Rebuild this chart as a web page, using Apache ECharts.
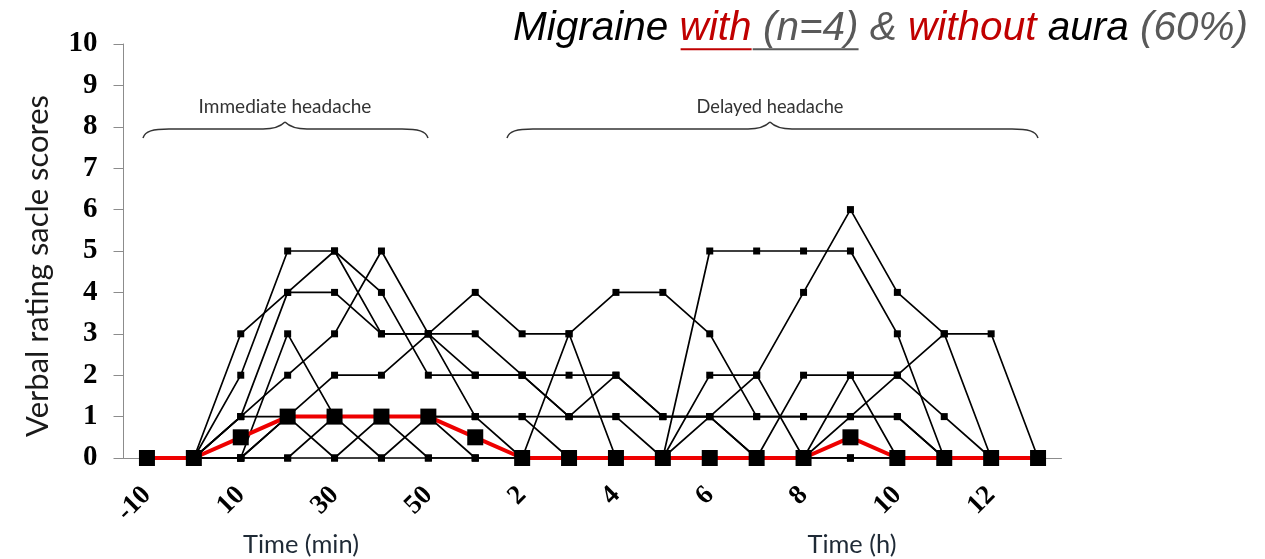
<!DOCTYPE html>
<html>
<head>
<meta charset="utf-8">
<script src="https://cdn.jsdelivr.net/npm/echarts@6/dist/echarts.min.js"></script>
<style>
  html, body { margin: 0; padding: 0; background: #ffffff; }
  #chart { width: 1265px; height: 559px; }
</style>
</head>
<body>
<div id="chart"></div>
<script>
// Time points: minutes around the challenge, then hours afterwards
const timeCategories = ['-10', '0', '10', '20', '30', '40', '50', '60',
  '2', '3', '4', '5', '6', '7', '8', '9', '10', '11', '12', '13'];

// Individual verbal rating scale scores
const patient1 = [0, 0, 3, 4, 5, 4, 2, 2, 2, 1, 1, 0, 2, 2, 0, 1, 2, 1, 0, 0];
const patient2 = [0, 0, 2, 5, 5, 3, 3, 4, 3, 3, 4, 4, 3, 1, 1, 1, 1, 0, 0, 0];
const patient3 = [0, 0, 1, 4, 4, 3, 3, 3, 2, 2, 2, 1, 1, 2, 4, 6, 4, 3, 3, 0];
const patient4 = [0, 0, 1, 2, 3, 5, 3, 1, 1, 0, 0, 0, 5, 5, 5, 5, 3, 0, 0, 0];
const patient5 = [0, 0, 0, 3, 1, 1, 1, 1, 0, 3, 0, 0, 0, 0, 0, 2, 2, 3, 0, 0];
const patient6 = [0, 0, 1, 1, 1, 1, 1, 1, 1, 1, 1, 1, 1, 1, 1, 1, 1, 0, 0, 0];
const patient7 = [0, 0, 0, 1, 2, 2, 3, 2, 2, 1, 2, 1, 1, 0, 2, 2, 0, 0, 0, 0];
const patient8 = [0, 0, 0, 1, 0, 1, 0, 0, 0, 0, 0, 0, 1, 0, 0, 0, 0, 0, 0, 0];
const patient9 = [0, 0, 0, 0, 1, 0, 1, 0, 0, 0, 0, 0, 0, 0, 0, 0, 0, 0, 0, 0];
const patient10 = [0, 0, 0, 0, 0, 0, 0, 0, 0, 0, 0, 0, 0, 0, 0, 0, 0, 0, 0, 0];
const patients = [patient1, patient2, patient3, patient4, patient5,
  patient6, patient7, patient8, patient9, patient10];

// Median score at each time point
const medianScores = [0, 0, 0.5, 1, 1, 1, 1, 0.5, 0, 0, 0, 0, 0, 0, 0, 0.5, 0, 0, 0, 0];

// Text
const yTitle = 'Verbal rating sacle scores';
const minTitle = 'Time (min)';
const hourTitle = 'Time (h)';
const immediateLabel = 'Immediate headache';
const delayedLabel = 'Delayed headache';
const titleParts = [
  { text: 'Migraine ', color: '#000000' },
  { text: 'with', color: '#C00000', underline: '#C00000' },
  { text: ' (n=4)', color: '#595959', underline: '#595959' },
  { text: ' & ', color: '#595959' },
  { text: 'without', color: '#C00000' },
  { text: ' aura ', color: '#000000' },
  { text: '(60%)', color: '#595959' }
];

// Measuring helper so text runs fit their intended width
const measureCtx = document.createElement('canvas').getContext('2d');
function widthAt(str, style, weight, size, family) {
  measureCtx.font = style + ' ' + weight + ' ' + size + 'px ' + family;
  return measureCtx.measureText(str).width;
}
function fitSize(str, style, weight, family, target) {
  return 100 * target / widthAt(str, style, weight, 100, family);
}

const graphics = [];

// Title built from coloured runs with underlines
(function () {
  const family = '"Liberation Sans", Arial, sans-serif';
  const full = titleParts.map(p => p.text).join('');
  const size = fitSize(full, 'italic', 'normal', family, 735);
  let x = 1248 - widthAt(full, 'italic', 'normal', size, family);
  const yMid = 29;
  titleParts.forEach(p => {
    const w = widthAt(p.text, 'italic', 'normal', size, family);
    graphics.push({
      type: 'text', x: x, y: yMid, silent: true,
      style: {
        text: p.text, fill: p.color, font: 'italic ' + size.toFixed(2) + 'px ' + family,
        align: 'left', verticalAlign: 'middle', textAlign: 'left', textVerticalAlign: 'middle'
      }
    });
    if (p.underline) {
      graphics.push({
        type: 'line', silent: true,
        shape: { x1: x + 1, y1: yMid + size * 0.5, x2: x + w, y2: yMid + size * 0.5 },
        style: { stroke: p.underline, lineWidth: 2 }
      });
    }
    x += w;
  });
})();

function centeredText(str, cx, cy, family, target, color, rotation) {
  const size = fitSize(str, 'normal', 'normal', family, target);
  graphics.push({
    type: 'text', x: cx, y: cy, rotation: rotation || 0, silent: true,
    style: {
      text: str, fill: color, font: size.toFixed(2) + 'px ' + family,
      align: 'center', verticalAlign: 'middle', textAlign: 'center', textVerticalAlign: 'middle'
    }
  });
}

const sansFamily = 'Lato, "Open Sans", sans-serif';
centeredText(yTitle, 38, 266, sansFamily, 342, '#1a1a1a', Math.PI / 2);
centeredText(minTitle, 301, 545, sansFamily, 116, '#1f2a36', 0);
centeredText(hourTitle, 852, 545, sansFamily, 89, '#1f2a36', 0);
centeredText(immediateLabel, 285, 107, sansFamily, 173, '#333333', 0);
centeredText(delayedLabel, 770, 107, sansFamily, 147, '#333333', 0);

// Curly braces grouping the two phases
function brace(x0, x1, xm) {
  const yEnd = 138, yFlat = 129, yTip = 122;
  const st = { stroke: '#333333', lineWidth: 1.5, fill: null };
  const halves = [[x0, xm], [x1, xm]];
  halves.forEach(([xe, xt]) => {
    const d = xt > xe ? 1 : -1;
    graphics.push({ type: 'bezierCurve', silent: true, style: st,
      shape: { x1: xe, y1: yEnd, cpx1: xe + d * 2, cpy1: yFlat + 2, cpx2: xe + d * 10, cpy2: yFlat,
               x2: xe + d * 26, y2: yFlat } });
    graphics.push({ type: 'line', silent: true, style: st,
      shape: { x1: xe + d * 26, y1: yFlat, x2: xt - d * 22, y2: yFlat } });
    graphics.push({ type: 'bezierCurve', silent: true, style: st,
      shape: { x1: xt - d * 22, y1: yFlat, cpx1: xt - d * 9, cpy1: yFlat, cpx2: xt - d * 3, cpy2: yTip + 3,
               x2: xt, y2: yTip } });
  });
}
brace(143, 428, 285);
brace(507, 1038, 770);

const series = patients.map((p, i) => ({
  type: 'line',
  name: 'P' + (i + 1),
  data: p,
  symbol: 'rect',
  symbolSize: 7,
  showSymbol: true,
  silent: true,
  animation: false,
  lineStyle: { color: '#000000', width: 1.7 },
  itemStyle: { color: '#000000' },
  z: 2
}));
series.push({
  type: 'line',
  name: 'Median',
  data: medianScores,
  symbol: 'rect',
  symbolSize: 16,
  silent: true,
  animation: false,
  lineStyle: { color: '#ee0000', width: 4 },
  itemStyle: { color: '#000000' },
  z: 3
});

const chart = echarts.init(document.getElementById('chart'), null, { renderer: 'canvas' });
chart.setOption({
  backgroundColor: '#ffffff',
  animation: false,
  grid: { left: 123.5, right: 203.5, top: 44, bottom: 101 },
  xAxis: {
    type: 'category',
    data: timeCategories,
    boundaryGap: true,
    axisLine: { lineStyle: { color: '#8c8c8c', width: 1 } },
    axisTick: { show: false },
    axisLabel: {
      interval: 1,
      rotate: 45,
      margin: 33,
      color: '#000000',
      fontFamily: '"Liberation Serif", "Times New Roman", serif',
      fontWeight: 'bold',
      fontSize: 27
    },
    splitLine: { show: false }
  },
  yAxis: {
    type: 'value',
    min: 0,
    max: 10,
    interval: 1,
    axisLine: { show: true, lineStyle: { color: '#8c8c8c', width: 1 } },
    axisTick: { show: true, inside: false, length: 10, lineStyle: { color: '#8c8c8c' } },
    axisLabel: {
      margin: 26,
      color: '#000000',
      fontFamily: '"Liberation Serif", "Times New Roman", serif',
      fontWeight: 'bold',
      fontSize: 29
    },
    splitLine: { show: false }
  },
  graphic: { elements: graphics },
  series: series
});
</script>
</body>
</html>
